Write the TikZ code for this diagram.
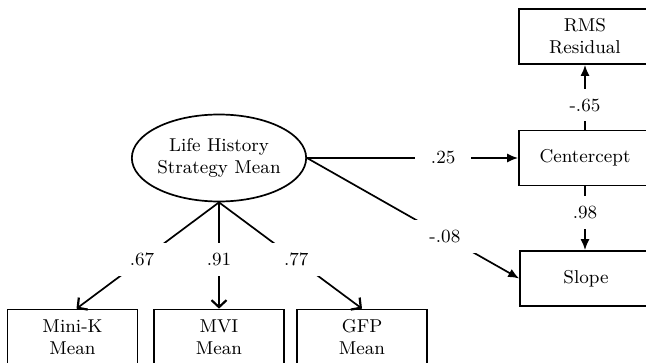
\documentclass[tikz,border=0pt]{standalone}
\usetikzlibrary{arrows.meta,calc,shapes.geometric}

\begin{document}
\begin{tikzpicture}[x=0.5pt, y=-0.5pt, font=\fontsize{9.3}{11}\selectfont,
	box/.style={draw, line width=0.85pt, minimum width=65pt, minimum height=27.5pt, inner sep=0pt, align=center},
	sidebox/.style={box, minimum width=66pt},
	coef/.style={fill=white, inner xsep=8pt, inner ysep=5pt},
	path/.style={line width=0.85pt},
	headfill/.style={-{Latex[length=5.5pt, width=4.5pt]}},
	headbarb/.style={-{Straight Barb[length=3.5pt, width=7.5pt, line width=1.1pt]}}]
	\useasboundingbox (0,0) rectangle (646,363);
	\clip (0,0) rectangle (646,363);
	\node[draw, ellipse, line width=0.85pt, minimum width=86.5pt, minimum height=43.5pt, inner sep=0pt, align=center] (lhs) at (219,158) {Life History\\Strategy Mean};
	\node[sidebox] (rms) at (585,36.5) {RMS\\Residual};
	\node[sidebox] (centercept) at (585,158) {Centercept};
	\node[sidebox] (slope) at (586,278.5) {Slope};
	\node[box] (minik) at (72.5,337) {Mini-K\\Mean};
	\node[box] (mvi) at (219,337) {MVI\\Mean};
	\node[box] (gfp) at (362,337) {GFP\\Mean};
	\draw[path, headfill] (lhs.east) -- node[coef, pos=0.645] {.25} (centercept.west);
	\draw[path, headfill] (lhs.east) -- node[coef, pos=0.65] {-.08} (slope.west);
	\draw[path, headfill] (centercept.north) -- node[coef, pos=0.38] {-.65} (rms.south);
	\draw[path, headfill] (centercept.south) -- node[coef, pos=0.41] {.98} (centercept.south |- slope.north);
	\draw[path, headbarb] (lhs.south) -- node[coef, pos=0.54] {.67} ($(minik.north)+(4,0)$);
	\draw[path, headbarb] (lhs.south) -- node[coef, pos=0.54] {.91} (mvi.north);
	\draw[path, headbarb] (lhs.south) -- node[coef, pos=0.54] {.77} (gfp.north);
\end{tikzpicture}
\end{document}
